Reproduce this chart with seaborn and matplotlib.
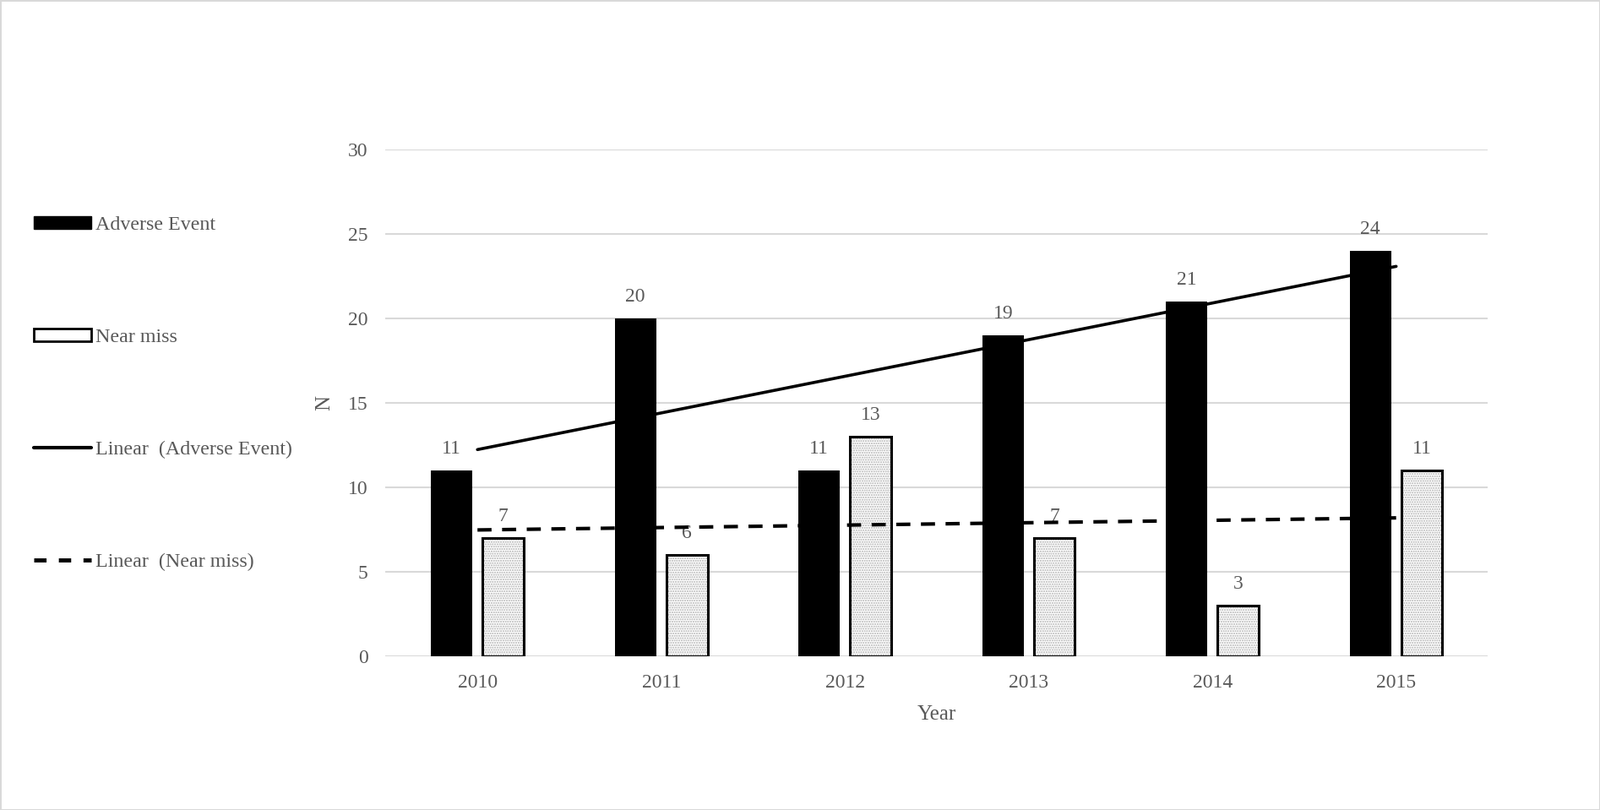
import numpy as np
import pandas as pd
import matplotlib
matplotlib.use("Agg")
import matplotlib.pyplot as plt
from matplotlib.patches import Patch, Rectangle
from matplotlib.lines import Line2D
import seaborn as sns

# datos
years = ["2010", "2011", "2012", "2013", "2014", "2015"]
adverse = [11, 20, 11, 19, 21, 24]
near_miss = [7, 6, 13, 7, 3, 11]
series = ["Adverse Event", "Near miss"]

df = pd.DataFrame({
    "Year": years * 2,
    "N": adverse + near_miss,
    "Tipo": [series[0]] * len(years) + [series[1]] * len(years),
})

sns.set_style("white")
plt.rcParams["font.family"] = ["Liberation Serif", "DejaVu Serif"]
plt.rcParams["hatch.linewidth"] = 1.0
gris = "#595959"

fig = plt.figure(figsize=(18.94, 9.59), dpi=100)
ax = fig.add_axes([0.241, 0.190, 0.689, 0.625])

sns.barplot(data=df, x="Year", y="N", hue="Tipo", hue_order=series,
            palette={series[0]: "black", series[1]: "white"},
            width=0.56, gap=0.2, legend=False, ax=ax, saturation=1,
            linewidth=0)

# barras "Near miss": trama de puntos gris y borde negro
for bar in ax.containers[1]:
    bar.set_hatch("......")
    bar.set_edgecolor("#b0b0b0")
    bar.set_linewidth(0)
    ax.add_patch(Rectangle(bar.get_xy(), bar.get_width(), bar.get_height(),
                           fill=False, edgecolor="black", linewidth=2.2, zorder=3))

for cont in ax.containers:
    ax.bar_label(cont, padding=11, fontsize=17, color=gris)

# lineas de tendencia lineal
pos = np.arange(len(years))
sns.regplot(x=pos, y=np.array(adverse), scatter=False, ci=None, truncate=True,
            ax=ax, line_kws=dict(color="black", lw=2.6, zorder=4))
sns.regplot(x=pos, y=np.array(near_miss), scatter=False, ci=None, truncate=True,
            ax=ax, line_kws=dict(color="black", lw=3, ls=(0, (4, 3)), zorder=4))

ax.set_xlim(-0.5, 5.5)
ax.set_ylim(0, 30)
ax.set_yticks(range(0, 31, 5))
ax.yaxis.grid(True, color="#d9d9d9", lw=1.5)
ax.set_axisbelow(True)
for s in ax.spines.values():
    s.set_visible(False)
ax.tick_params(axis="both", length=0, labelsize=17, labelcolor=gris)
ax.tick_params(axis="y", pad=15)
ax.tick_params(axis="x", pad=15)
ax.set_xlabel("Year", fontsize=18, color=gris, labelpad=12)
ax.set_ylabel("N", fontsize=18, color=gris, labelpad=12)

handles = [
    Patch(facecolor="black", edgecolor="black"),
    Patch(facecolor="white", edgecolor="black", linewidth=2),
    Line2D([0], [0], color="black", lw=3),
    Line2D([0], [0], color="black", lw=3.5, ls=(0, (3, 3))),
]
labels = ["Adverse Event", "Near miss", "Linear  (Adverse Event)", "Linear  (Near miss)"]
fig.legend(handles, labels, loc="upper left", bbox_to_anchor=(0.021, 0.733),
           frameon=False, fontsize=17.3, labelcolor=gris, handlelength=2.85,
           handleheight=0.6, handletextpad=0.2, labelspacing=4.65,
           borderaxespad=0, borderpad=0)

fig.patch.set_edgecolor("#d9d9d9")
fig.patch.set_linewidth(2)
fig.savefig("out.png", dpi=100)
